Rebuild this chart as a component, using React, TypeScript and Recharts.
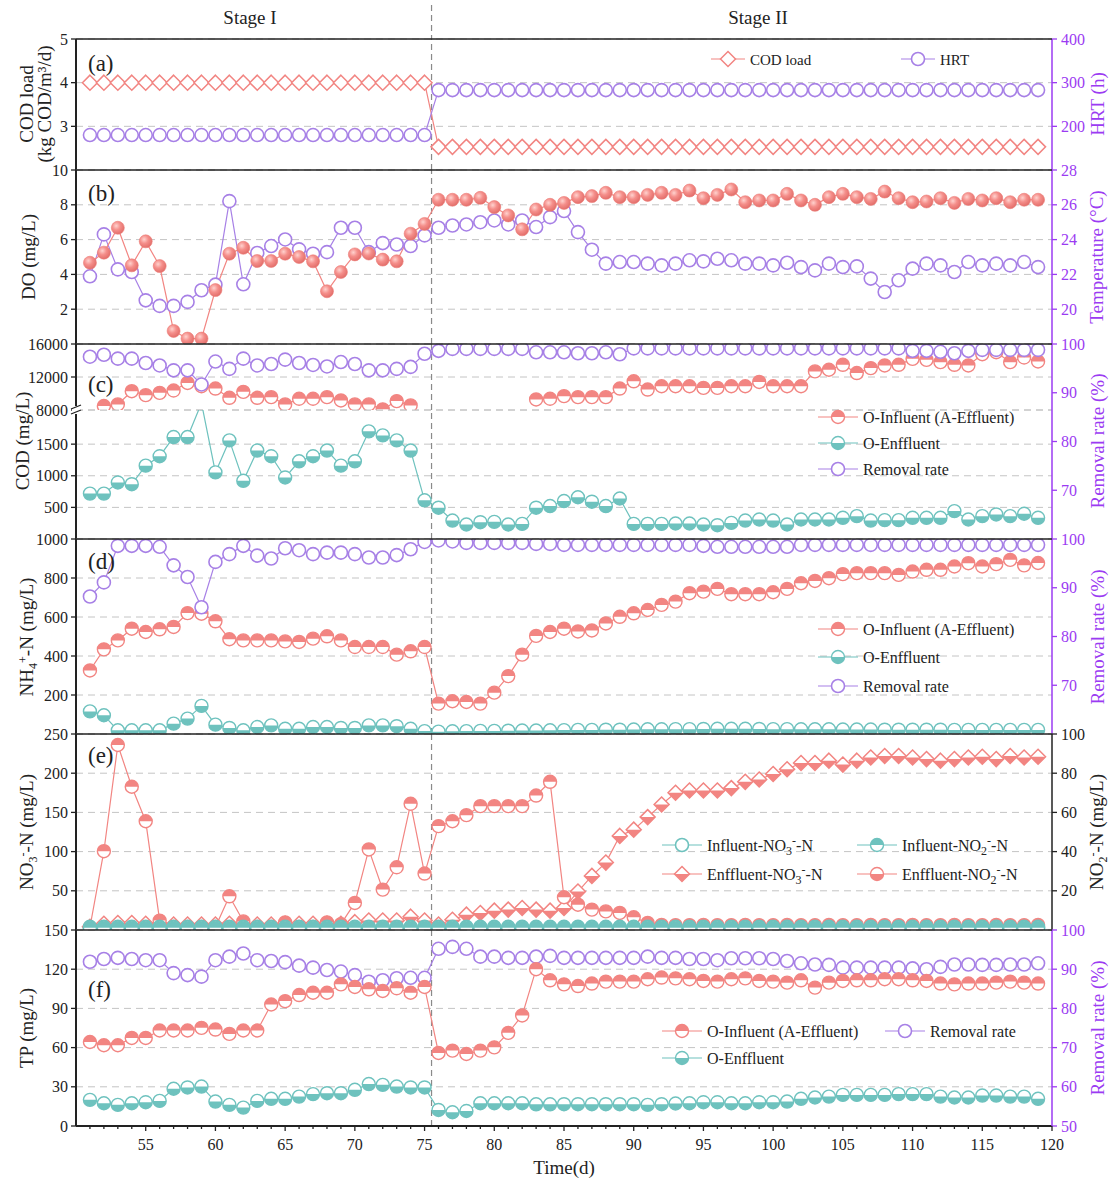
import React from 'react';
import { ComposedChart, Line, XAxis, YAxis, CartesianGrid, ReferenceLine } from 'recharts';

// time axis (d)
const days = [
  51, 52, 53, 54, 55, 56, 57, 58, 59, 60,
  61, 62, 63, 64, 65, 66, 67, 68, 69, 70,
  71, 72, 73, 74, 75, 76, 77, 78, 79, 80,
  81, 82, 83, 84, 85, 86, 87, 88, 89, 90,
  91, 92, 93, 94, 95, 96, 97, 98, 99, 100,
  101, 102, 103, 104, 105, 106, 107, 108, 109, 110,
  111, 112, 113, 114, 115, 116, 117, 118, 119,
];
const xMajor = [55, 60, 65, 70, 75, 80, 85, 90, 95, 100, 105, 110, 115, 120];
const stageSplit = 75.5;

// (a)
const codLoad = [
  4, 4, 4, 4, 4, 4, 4, 4, 4, 4,
  4, 4, 4, 4, 4, 4, 4, 4, 4, 4,
  4, 4, 4, 4, 4, 2.53, 2.53, 2.53, 2.53, 2.53,
  2.53, 2.53, 2.53, 2.53, 2.53, 2.53, 2.53, 2.53, 2.53, 2.53,
  2.53, 2.53, 2.53, 2.53, 2.53, 2.53, 2.53, 2.53, 2.53, 2.53,
  2.53, 2.53, 2.53, 2.53, 2.53, 2.53, 2.53, 2.53, 2.53, 2.53,
  2.53, 2.53, 2.53, 2.53, 2.53, 2.53, 2.53, 2.53, 2.53,
];
const hrt = [
  180, 180, 180, 180, 180, 180, 180, 180, 180, 180,
  180, 180, 180, 180, 180, 180, 180, 180, 180, 180,
  180, 180, 180, 180, 180, 283, 283, 283, 283, 283,
  283, 283, 283, 283, 283, 283, 283, 283, 283, 283,
  283, 283, 283, 283, 283, 283, 283, 283, 283, 283,
  283, 283, 283, 283, 283, 283, 283, 283, 283, 283,
  283, 283, 283, 283, 283, 283, 283, 283, 283,
];

// (b)
const doVal = [
  4.67, 5.25, 6.68, 4.52, 5.9, 4.48, 0.75, 0.31, 0.31, 3.1,
  5.19, 5.53, 4.77, 4.77, 5.19, 5.0, 4.75, 3.03, 4.14, 5.15,
  5.2, 4.85, 4.75, 6.34, 6.9, 8.29, 8.29, 8.29, 8.4, 7.87,
  7.39, 6.59, 7.73, 8.0, 8.11, 8.44, 8.5, 8.69, 8.44, 8.44,
  8.57, 8.69, 8.57, 8.82, 8.38, 8.57, 8.88, 8.15, 8.25, 8.25,
  8.63, 8.25, 8.0, 8.44, 8.63, 8.44, 8.34, 8.76, 8.38, 8.15,
  8.19, 8.38, 8.11, 8.34, 8.25, 8.38, 8.15, 8.29, 8.29,
];
const temp = [
  21.89, 24.3, 22.29, 22.14, 20.51, 20.19, 20.19, 20.42, 21.09, 21.41,
  26.21, 21.43, 23.23, 23.63, 24.01, 23.44, 23.19, 23.28, 24.68, 24.68,
  23.28, 23.8, 23.72, 23.63, 24.24, 24.68, 24.81, 24.87, 25.0, 25.1,
  24.87, 25.1, 24.72, 25.29, 25.64, 24.43, 23.42, 22.62, 22.71, 22.71,
  22.62, 22.52, 22.62, 22.81, 22.75, 22.9, 22.81, 22.62, 22.62, 22.52,
  22.67, 22.42, 22.23, 22.62, 22.42, 22.46, 21.76, 20.99, 21.66, 22.33,
  22.62, 22.52, 22.14, 22.71, 22.52, 22.62, 22.52, 22.71, 22.42,
];

// (c)
const codIn = [
  null, 8480, 8680, 10280, 9800, 10080, 10360, 11280, 10880, 10600,
  9480, 10200, 9480, 9560, 8680, 9360, 9360, 9560, 9160, 8680,
  8680, 8080, 9080, 8560, null, null, null, null, null, null,
  null, null, 9280, 9360, 9680, 9560, 9560, 9560, 10600, 11480,
  10480, 10880, 10880, 10880, 10680, 10680, 10880, 10880, 11400, 10880,
  10880, 10880, 12680, 12880, 13480, 12480, 13080, 13400, 13480, 14200,
  14080, 13800, 13480, 13400, 14760, 15000, 13800, 14360, 13880,
];
const codEff = [
  718, 718, 894, 867, 1160, 1309, 1612, 1612, 2150, 1053,
  1559, 920, 1399, 1309, 973, 1229, 1309, 1399, 1160, 1229,
  1702, 1638, 1559, 1399, 612, 495, 292, 229, 266, 271,
  229, 239, 495, 521, 600, 660, 590, 521, 640, 239,
  239, 239, 245, 245, 229, 218, 255, 292, 308, 292,
  229, 308, 308, 308, 335, 361, 292, 298, 298, 335,
  335, 335, 441, 308, 361, 388, 361, 399, 335,
];
const codRem = [
  97.4, 97.8, 97.0, 97.0, 96.1, 95.6, 94.6, 94.6, 91.7, 96.4,
  94.9, 97.0, 95.6, 95.9, 96.8, 96.1, 95.7, 95.4, 96.3, 95.9,
  94.6, 94.6, 94.9, 95.3, 98.0, 98.6, 99.0, 99.0, 99.0, 99.0,
  99.0, 99.0, 98.3, 98.3, 98.3, 98.1, 98.1, 98.3, 97.9, 99.1,
  99.1, 99.1, 99.1, 99.1, 99.1, 99.1, 99.1, 99.1, 99.1, 99.1,
  99.1, 99.1, 99.1, 99.1, 99.1, 99.1, 99.1, 99.1, 99.1, 98.6,
  98.6, 98.4, 98.1, 98.6, 98.8, 98.8, 98.8, 98.8, 98.8,
];

// (d)
const nh4In = [
  326, 434, 480, 540, 523, 537, 549, 620, 617, 578,
  486, 480, 480, 480, 475, 472, 489, 501, 480, 446,
  446, 446, 407, 424, 446, 156, 168, 164, 156, 212,
  297, 407, 503, 523, 540, 526, 531, 567, 601, 619,
  636, 662, 679, 722, 730, 744, 717, 717, 717, 727,
  744, 773, 785, 799, 820, 825, 825, 825, 816, 833,
  842, 842, 859, 876, 859, 871, 893, 865, 877,
];
const nh4Eff = [
  116, 96, 19, 19, 19, 19, 53, 79, 144, 48,
  31, 19, 36, 44, 27, 27, 36, 36, 31, 31,
  44, 44, 40, 27, 15, 12, 14, 15, 16, 16,
  17, 18, 18, 19, 20, 21, 21, 22, 22, 23,
  24, 24, 25, 25, 26, 27, 27, 27, 26, 25,
  25, 24, 24, 24, 23, 23, 23, 22, 22, 22,
  22, 22, 21, 21, 21, 21, 21, 21, 21,
];
const nh4Rem = [
  88.2, 91.1, 98.6, 98.6, 98.6, 98.4, 94.6, 92.2, 86.0, 95.3,
  96.9, 98.6, 96.6, 96.0, 98.1, 97.7, 96.9, 97.2, 97.2, 96.9,
  96.2, 96.2, 96.7, 97.9, 99.4, 99.7, 99.5, 99.2, 99.2, 99.2,
  99.2, 99.2, 99.0, 99.0, 98.8, 98.8, 98.8, 98.8, 98.8, 98.8,
  98.8, 98.8, 98.8, 98.8, 98.6, 98.4, 98.4, 98.4, 98.4, 98.4,
  98.4, 98.8, 98.8, 98.8, 98.8, 98.8, 98.8, 98.8, 98.8, 98.8,
  98.8, 98.8, 98.8, 98.8, 98.8, 98.8, 98.8, 98.8, 98.8,
];

// (e)
const no3In = [
  4, 4, 4, 4, 4, 4, 4, 4, 4, 4,
  4, 4, 4, 4, 4, 4, 4, 4, 4, 4,
  4, 4, 4, 4, 4, 4, 4, 4, 4, 4,
  4, 4, 4, 4, 4, 4, 4, 4, 4, 4,
  4, 4, 4, 4, 4, 4, 4, 4, 4, 4,
  4, 4, 4, 4, 4, 4, 4, 4, 4, 4,
  4, 4, 4, 4, 4, 4, 4, 4, 4,
];
const no2In = [
  1.2, 1.2, 1.2, 1.2, 1.2, 1.2, 1.2, 1.2, 1.2, 1.2,
  1.2, 1.2, 1.2, 1.2, 1.2, 1.2, 1.2, 1.2, 1.2, 1.2,
  1.2, 1.2, 1.2, 1.2, 1.2, 1.2, 1.2, 1.2, 1.2, 1.2,
  1.2, 1.2, 1.2, 1.2, 1.2, 1.2, 1.2, 1.2, 1.2, 1.2,
  1.2, 1.2, 1.2, 1.2, 1.2, 1.2, 1.2, 1.2, 1.2, 1.2,
  1.2, 1.2, 1.2, 1.2, 1.2, 1.2, 1.2, 1.2, 1.2, 1.2,
  1.2, 1.2, 1.2, 1.2, 1.2, 1.2, 1.2, 1.2, 1.2,
];
const no3Eff = [
  4, 8, 9, 9, 8, 8, 7, 7, 7, 7,
  8, 7, 7, 7, 8, 8, 8, 8, 8, 10,
  12, 12, 12, 17, 12, 7, 13, 19.6, 21.7, 24.7,
  26, 28, 26, 24.7, 28, 49, 69, 86, 120, 128,
  144, 160, 175, 178, 178, 178, 181, 189, 192, 199,
  205, 213, 213, 216, 211, 216, 220, 222, 222, 220,
  218, 216, 218, 220, 221, 218, 222, 220, 221,
];
const no2Eff = [
  1.4, 40.2, 94.4, 73.1, 55.5, 4.8, 1.5, 1.5, 1.5, 1.5,
  17.2, 4.4, 1.5, 1.5, 3.9, 1.5, 1.5, 3.9, 3.0, 13.8,
  41.1, 20.6, 32.0, 64.4, 28.8, 53.0, 55.5, 58.6, 63.2, 63.2,
  63.2, 63.2, 68.6, 75.6, 16.7, 12.9, 10.4, 9.5, 8.7, 6.5,
  3.6, 2.6, 2.5, 2.5, 2.6, 2.5, 2.5, 2.6, 2.5, 2.5,
  2.6, 2.5, 2.5, 2.6, 2.5, 2.5, 2.6, 2.5, 2.5, 2.6,
  2.5, 2.5, 2.6, 2.5, 2.5, 2.6, 2.5, 2.5, 2.6,
];

// (f)
const tpIn = [
  64.3, 61.8, 61.8, 67.4, 67.4, 73.1, 73.1, 73.1, 75.1, 73.8,
  70.5, 73.1, 73.1, 93.0, 95.6, 100.2, 102, 102, 108.4, 106.4,
  104.6, 103.3, 105.4, 102, 106.4, 55.9, 57.7, 55.1, 57.7, 60.2,
  71.3, 84.6, 120, 111.5, 108.4, 107.1, 109, 110.5, 110.5, 110.5,
  112.3, 113.6, 113, 112.3, 111, 110.5, 112.3, 113, 111, 110.5,
  109.7, 111.5, 105.9, 109.7, 111, 111.5, 111.5, 112.3, 112.3, 111.5,
  111, 109, 108.4, 109, 109, 109.7, 110.5, 109.7, 109,
];
const tpEff = [
  20.0, 17.4, 16.2, 17.4, 18.2, 19.2, 28.5, 29.5, 30.2, 18.7,
  16.2, 14.1, 19.2, 20.8, 20.8, 22.5, 24.4, 25.1, 25.1, 27.7,
  32.1, 31.5, 30.2, 29.5, 29.5, 12.3, 10.5, 11.5, 17.4, 17.4,
  17.4, 17.4, 16.6, 16.6, 16.7, 16.7, 16.7, 16.7, 16.7, 16.7,
  16.2, 16.7, 17.2, 17.4, 18.2, 18.2, 17.4, 17.4, 18.2, 18.2,
  18.7, 20.8, 21.8, 22.5, 23.8, 23.8, 23.8, 23.8, 24.4, 24.4,
  24.4, 22.5, 21.8, 21.8, 23.3, 23.3, 22.5, 22.5, 20.8,
];
const tpRem = [
  91.9, 92.6, 92.9, 92.6, 92.3, 92.3, 89.0, 88.5, 88.1, 92.3,
  93.2, 94.0, 92.3, 92.1, 91.8, 90.9, 90.4, 89.8, 89.4, 88.5,
  86.8, 87.2, 87.7, 87.8, 87.8, 95.2, 95.7, 95.2, 93.2, 93.2,
  92.9, 92.9, 93.2, 93.4, 92.9, 92.9, 92.9, 92.9, 92.9, 92.9,
  93.2, 92.9, 92.9, 92.6, 92.6, 92.3, 92.8, 92.8, 92.8, 92.6,
  92.1, 91.5, 91.2, 91.1, 90.4, 90.4, 90.4, 90.4, 90.4, 90.2,
  90.0, 90.6, 91.2, 91.2, 91.1, 91.1, 91.2, 91.2, 91.5,
];

const rows = days.map((day, i) => ({
  day,
  codLoad: codLoad[i], hrt: hrt[i],
  doVal: doVal[i], temp: temp[i],
  codIn: codIn[i], codEff: codEff[i], codRem: codRem[i],
  nh4In: nh4In[i], nh4Eff: nh4Eff[i], nh4Rem: nh4Rem[i],
  no3In: no3In[i], no2In: no2In[i], no3Eff: no3Eff[i], no2Eff: no2Eff[i],
  tpIn: tpIn[i], tpEff: tpEff[i], tpRem: tpRem[i],
}));
const xTicks = [...days, 120];

const CORAL = '#F28582';
const PURPLE = '#A780E6';
const TEAL = '#6EC2BE';
const AX_PURPLE = '#9B3BF2';
const INK = '#222';
const FONT = '"Liberation Serif", "Times New Roman", serif';

const W = 1110;
const AX_L = 76;
const AX_R = 58;
const M0 = { top: 0, right: 0, bottom: 0, left: 0 };

type Kind = 'circle' | 'sphere' | 'halfTop' | 'halfBottom' | 'diamond' | 'diamondHalf';

function Marker({ kind, cx, cy, color }: { kind: Kind; cx: number; cy: number; color: string }) {
  const r = 6.5;
  const d = 7.5;
  if (kind === 'circle') return <circle cx={cx} cy={cy} r={r} fill="#fff" stroke={color} strokeWidth={1.6} />;
  if (kind === 'sphere') return <circle cx={cx} cy={cy} r={r} fill="url(#sphereFill)" stroke="#EC7A76" strokeWidth={0.6} />;
  if (kind === 'halfTop' || kind === 'halfBottom') {
    const sweep = kind === 'halfTop' ? 1 : 0;
    return (
      <g>
        <circle cx={cx} cy={cy} r={r} fill="#fff" />
        <path d={`M${cx - r},${cy} A${r},${r} 0 0 ${sweep} ${cx + r},${cy} Z`} fill={color} />
        <circle cx={cx} cy={cy} r={r} fill="none" stroke={color} strokeWidth={1.4} />
      </g>
    );
  }
  const pts = `${cx},${cy - d} ${cx + d},${cy} ${cx},${cy + d} ${cx - d},${cy}`;
  if (kind === 'diamond') return <polygon points={pts} fill="#fff" stroke={color} strokeWidth={1.5} />;
  return (
    <g>
      <polygon points={pts} fill="#fff" />
      <path d={`M${cx - d},${cy} L${cx + d},${cy} L${cx},${cy + d} Z`} fill={color} />
      <polygon points={pts} fill="none" stroke={color} strokeWidth={1.5} />
    </g>
  );
}

const dot = (kind: Kind, color: string) => (p: any) => {
  if (p.cx == null || p.cy == null || p.value == null || Number.isNaN(p.cy)) return <g key={`e${p.index}`} />;
  return (
    <g key={`m${p.index}`}>
      <Marker kind={kind} cx={p.cx} cy={p.cy} color={color} />
    </g>
  );
};

const series = (key: string, color: string, kind: Kind, yAxisId: string | number = 0) => (
  <Line
    key={key}
    yAxisId={yAxisId}
    dataKey={key}
    type="linear"
    stroke={color}
    strokeWidth={1.2}
    dot={dot(kind, color)}
    activeDot={false}
    connectNulls={false}
    isAnimationActive={false}
  />
);

const leftAxis = (domain: number[], ticks: number[]) => (
  <YAxis
    yAxisId={0}
    orientation="left"
    width={AX_L}
    type="number"
    domain={domain}
    ticks={ticks}
    interval={0}
    allowDataOverflow
    tickSize={5}
    tickMargin={3}
    axisLine={{ stroke: INK, strokeWidth: 2 }}
    tickLine={{ stroke: INK, strokeWidth: 1.3 }}
    tick={{ fill: INK, fontSize: 16, fontFamily: FONT }}
  />
);

const rightAxis = (domain: number[], ticks: number[], color: string) => (
  <YAxis
    yAxisId="r"
    orientation="right"
    width={AX_R}
    type="number"
    domain={domain}
    ticks={ticks}
    interval={0}
    allowDataOverflow
    tickSize={5}
    tickMargin={4}
    axisLine={{ stroke: color, strokeWidth: 1.5 }}
    tickLine={{ stroke: color, strokeWidth: 1.3 }}
    tick={{ fill: color, fontSize: 16, fontFamily: FONT }}
  />
);

const hiddenX = <XAxis xAxisId={0} type="number" dataKey="day" domain={[50, 120]} hide />;
const grid = <CartesianGrid vertical={false} stroke="#c4c4c4" strokeDasharray="7 5" />;
const stageLine = (
  <ReferenceLine x={stageSplit} stroke="#8a8a8a" strokeDasharray="6 4" strokeWidth={1.2} ifOverflow="visible" />
);

const xTick = (p: any) => {
  const v = p.payload.value;
  const major = xMajor.includes(v);
  return (
    <g key={`xt${v}`}>
      <line x1={p.x} x2={p.x} y1={p.y} y2={p.y + (major ? 5 : 3)} stroke={INK} strokeWidth={1.3} />
      {major && (
        <text x={p.x} y={p.y + 24} textAnchor="middle" fontSize={16} fill={INK} fontFamily={FONT}>
          {v}
        </text>
      )}
    </g>
  );
};

function Box({ top, height, children }: { top: number; height: number; children: React.ReactNode }) {
  return <div style={{ position: 'absolute', left: 0, top, width: W, height }}>{children}</div>;
}

function VText({ x, y, color = INK, children }: { x: number; y: number; color?: string; children: React.ReactNode }) {
  return (
    <text transform={`translate(${x},${y}) rotate(-90)`} textAnchor="middle" fontSize={19} fill={color} fontFamily={FONT}>
      {children}
    </text>
  );
}

function LegendItem({ x, y, kind, color, len = 40, size = 16, children }: any) {
  return (
    <g>
      <line x1={x} x2={x + len} y1={y} y2={y} stroke={color} strokeWidth={1.2} />
      <Marker kind={kind} cx={x + len / 2} cy={y} color={color} />
      <text x={x + len + 5} y={y + 5.5} fontSize={size} fill={INK} fontFamily={FONT}>
        {children}
      </text>
    </g>
  );
}

const sub = (s: string) => <tspan dy={4} fontSize={12}>{s}</tspan>;
const supAfterSub = (s: string) => <tspan dy={-10} fontSize={12}>{s}</tspan>;
const back = (s: string) => <tspan dy={6}>{s}</tspan>;

const Overlay = () => {
  const panelEdges = [39, 170, 344, 539, 734, 930];
  const sx = 76 + ((stageSplit - 50) / 70) * 976;
  return (
    <svg width={W} height={1182} style={{ position: 'absolute', left: 0, top: 0, pointerEvents: 'none' }}>
      <defs>
        <radialGradient id="sphereFill" cx="0.38" cy="0.35" r="0.7">
          <stop offset="0" stopColor="#FFD2CE" />
          <stop offset="0.45" stopColor="#F58F8B" />
          <stop offset="1" stopColor="#E06A66" />
        </radialGradient>
      </defs>
      <line x1={sx} x2={sx} y1={5} y2={39} stroke="#8a8a8a" strokeDasharray="6 4" strokeWidth={1.2} />
      {panelEdges.map((y) => (
        <line key={y} x1={76} x2={1052} y1={y} y2={y} stroke={INK} strokeWidth={1.6} />
      ))}
      {/* axis break */}
      <rect x={72} y={406} width={9} height={8} fill="#fff" />
      <line x1={71} x2={81} y1={409} y2={405} stroke={INK} strokeWidth={1.3} />
      <line x1={71} x2={81} y1={414} y2={410} stroke={INK} strokeWidth={1.3} />

      <text x={250} y={24} textAnchor="middle" fontSize={19} fill={INK} fontFamily={FONT}>Stage I</text>
      <text x={758} y={24} textAnchor="middle" fontSize={19} fill={INK} fontFamily={FONT}>Stage II</text>

      {[
        ['(a)', 71], ['(b)', 201], ['(c)', 392], ['(d)', 569], ['(e)', 763], ['(f)', 997],
      ].map(([t, y]) => (
        <text key={t as string} x={88} y={y as number} fontSize={23} fill={INK} fontFamily={FONT}>{t}</text>
      ))}

      <VText x={33} y={104}>COD load</VText>
      <VText x={51} y={104}>(kg COD/m³/d)</VText>
      <VText x={35} y={257}>DO (mg/L)</VText>
      <VText x={29} y={441}>COD (mg/L)</VText>
      <VText x={33} y={637}>NH{sub('4')}{supAfterSub('+')}{back('-N (mg/L)')}</VText>
      <VText x={33} y={832}>NO{sub('3')}{supAfterSub('-')}{back('-N (mg/L)')}</VText>
      <VText x={33} y={1028}>TP (mg/L)</VText>

      <VText x={1104} y={104} color={AX_PURPLE}>HRT (h)</VText>
      <VText x={1103} y={257} color={AX_PURPLE}>Temperature (°C)</VText>
      <VText x={1104} y={441} color={AX_PURPLE}>Removal rate (%)</VText>
      <VText x={1104} y={637} color={AX_PURPLE}>Removal rate (%)</VText>
      <VText x={1103} y={832}>NO{sub('2')}{supAfterSub('-')}{back('-N (mg/L)')}</VText>
      <VText x={1104} y={1028} color={AX_PURPLE}>Removal rate (%)</VText>

      <text x={564} y={1174} textAnchor="middle" fontSize={19} fill={INK} fontFamily={FONT}>Time(d)</text>

      {/* legends */}
      <LegendItem x={711} y={59} kind="diamond" color={CORAL} len={34} size={15}>COD load</LegendItem>
      <LegendItem x={901} y={59} kind="circle" color={PURPLE} len={34} size={15}>HRT</LegendItem>

      <LegendItem x={818} y={417} kind="halfTop" color={CORAL}>O-Influent (A-Effluent)</LegendItem>
      <LegendItem x={818} y={443} kind="halfBottom" color={TEAL}>O-Enffluent</LegendItem>
      <LegendItem x={818} y={469} kind="circle" color={PURPLE}>Removal rate</LegendItem>

      <LegendItem x={818} y={629} kind="halfTop" color={CORAL}>O-Influent (A-Effluent)</LegendItem>
      <LegendItem x={818} y={657} kind="halfBottom" color={TEAL}>O-Enffluent</LegendItem>
      <LegendItem x={818} y={686} kind="circle" color={PURPLE}>Removal rate</LegendItem>

      <LegendItem x={662} y={845} kind="circle" color={TEAL}>Influent-NO{sub('3')}{supAfterSub('-')}{back('-N')}</LegendItem>
      <LegendItem x={857} y={845} kind="halfTop" color={TEAL}>Influent-NO{sub('2')}{supAfterSub('-')}{back('-N')}</LegendItem>
      <LegendItem x={662} y={874} kind="diamondHalf" color={CORAL}>Enffluent-NO{sub('3')}{supAfterSub('-')}{back('-N')}</LegendItem>
      <LegendItem x={857} y={874} kind="halfBottom" color={CORAL}>Enffluent-NO{sub('2')}{supAfterSub('-')}{back('-N')}</LegendItem>

      <LegendItem x={662} y={1031} kind="halfTop" color={CORAL}>O-Influent (A-Effluent)</LegendItem>
      <LegendItem x={885} y={1031} kind="circle" color={PURPLE}>Removal rate</LegendItem>
      <LegendItem x={662} y={1058} kind="halfBottom" color={TEAL}>O-Enffluent</LegendItem>
    </svg>
  );
};

export default function App() {
  return (
    <div style={{ position: 'absolute', left: 0, top: 0, width: W, height: 1182, background: '#fff', fontFamily: FONT }}>
      <style>{'.recharts-surface{overflow:visible}'}</style>

      {/* (a) COD load / HRT */}
      <Box top={39} height={131}>
        <ComposedChart width={W} height={131} data={rows} margin={M0}>
          {grid}
          {hiddenX}
          {leftAxis([2, 5], [3, 4, 5])}
          {rightAxis([100, 400], [200, 300, 400], AX_PURPLE)}
          {stageLine}
          {series('codLoad', CORAL, 'diamond')}
          {series('hrt', PURPLE, 'circle', 'r')}
        </ComposedChart>
      </Box>

      {/* (b) DO / Temperature */}
      <Box top={170} height={174}>
        <ComposedChart width={W} height={174} data={rows} margin={M0}>
          {grid}
          {hiddenX}
          {leftAxis([0, 10], [2, 4, 6, 8, 10])}
          {rightAxis([18, 28], [20, 22, 24, 26, 28], AX_PURPLE)}
          {stageLine}
          {series('temp', PURPLE, 'circle', 'r')}
          {series('doVal', CORAL, 'sphere')}
        </ComposedChart>
      </Box>

      {/* (c) COD, upper part of broken axis */}
      <Box top={344} height={66}>
        <ComposedChart width={W} height={66} data={rows} margin={{ ...M0, right: AX_R }}>
          {grid}
          {hiddenX}
          {leftAxis([8000, 16000], [8000, 12000, 16000])}
          {stageLine}
          {series('codIn', CORAL, 'halfTop')}
        </ComposedChart>
      </Box>
      {/* (c) COD, lower part */}
      <Box top={410} height={129}>
        <ComposedChart width={W} height={129} data={rows} margin={{ ...M0, right: AX_R }}>
          {grid}
          {hiddenX}
          {leftAxis([0, 2040], [500, 1000, 1500])}
          {stageLine}
          {series('codEff', TEAL, 'halfBottom')}
        </ComposedChart>
      </Box>
      {/* (c) removal rate over whole panel */}
      <Box top={344} height={195}>
        <ComposedChart width={W} height={195} data={rows} margin={{ ...M0, left: AX_L }}>
          {hiddenX}
          {rightAxis([60, 100], [70, 80, 90, 100], AX_PURPLE)}
          {series('codRem', PURPLE, 'circle', 'r')}
        </ComposedChart>
      </Box>

      {/* (d) NH4+-N */}
      <Box top={539} height={195}>
        <ComposedChart width={W} height={195} data={rows} margin={M0}>
          {grid}
          {hiddenX}
          {leftAxis([0, 1000], [200, 400, 600, 800, 1000])}
          {rightAxis([60, 100], [70, 80, 90, 100], AX_PURPLE)}
          {stageLine}
          {series('nh4Eff', TEAL, 'halfBottom')}
          {series('nh4In', CORAL, 'halfTop')}
          {series('nh4Rem', PURPLE, 'circle', 'r')}
        </ComposedChart>
      </Box>

      {/* (e) NO3- / NO2- */}
      <Box top={734} height={196}>
        <ComposedChart width={W} height={196} data={rows} margin={M0}>
          {grid}
          {hiddenX}
          {leftAxis([0, 250], [50, 100, 150, 200, 250])}
          {rightAxis([0, 100], [20, 40, 60, 80, 100], INK)}
          {stageLine}
          {series('no3Eff', CORAL, 'diamondHalf')}
          {series('no2Eff', CORAL, 'halfTop', 'r')}
          {series('no3In', TEAL, 'circle')}
          {series('no2In', TEAL, 'halfTop', 'r')}
        </ComposedChart>
      </Box>

      {/* (f) TP */}
      <Box top={930} height={252}>
        <ComposedChart width={W} height={252} data={rows} margin={M0}>
          {grid}
          <XAxis
            xAxisId={0}
            type="number"
            dataKey="day"
            domain={[50, 120]}
            ticks={xTicks}
            interval={0}
            height={56}
            tickSize={0}
            tickMargin={0}
            tickLine={false}
            axisLine={{ stroke: INK, strokeWidth: 2 }}
            tick={xTick}
          />
          {leftAxis([0, 150], [0, 30, 60, 90, 120, 150])}
          {rightAxis([50, 100], [50, 60, 70, 80, 90, 100], AX_PURPLE)}
          {stageLine}
          {series('tpRem', PURPLE, 'circle', 'r')}
          {series('tpEff', TEAL, 'halfBottom')}
          {series('tpIn', CORAL, 'halfTop')}
        </ComposedChart>
      </Box>

      <Overlay />
    </div>
  );
}
